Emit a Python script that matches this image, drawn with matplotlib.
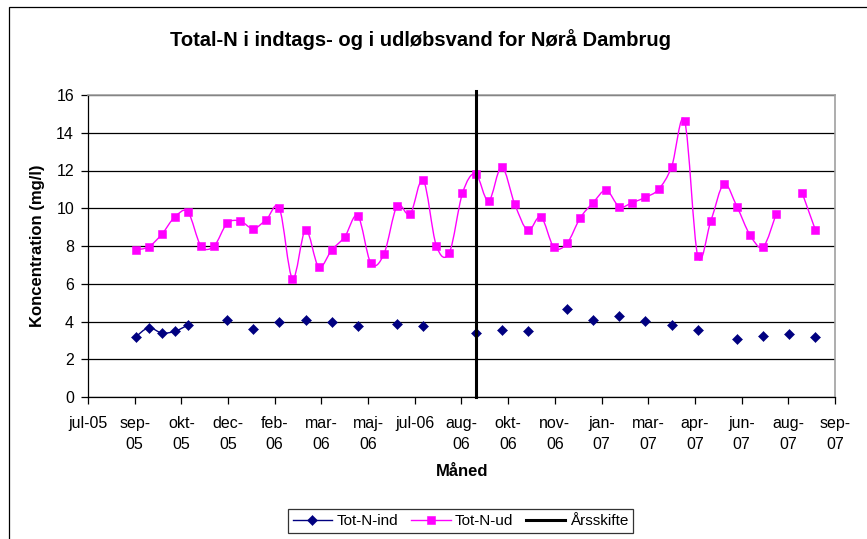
import numpy as np
import matplotlib
matplotlib.use('Agg')
import matplotlib.pyplot as plt
import matplotlib.dates as mdates
from matplotlib.path import Path
from matplotlib.patches import PathPatch, Rectangle
from matplotlib.lines import Line2D
from datetime import datetime, timedelta

# sample dates (roughly every second week)
dates = ['2005-09-06', '2005-09-20', '2005-10-04', '2005-10-18', '2005-11-01',
         '2005-11-15', '2005-11-29', '2005-12-13', '2005-12-27', '2006-01-10',
         '2006-01-24', '2006-02-07', '2006-02-21', '2006-03-07', '2006-03-21',
         '2006-04-04', '2006-04-18', '2006-05-02', '2006-05-16', '2006-05-30',
         '2006-06-13', '2006-06-27', '2006-07-11', '2006-07-25', '2006-08-08',
         '2006-08-22', '2006-09-05', '2006-09-19', '2006-10-03', '2006-10-17',
         '2006-10-31', '2006-11-14', '2006-11-28', '2006-12-12', '2006-12-26',
         '2007-01-09', '2007-01-23', '2007-02-06', '2007-02-20', '2007-03-06',
         '2007-03-20', '2007-04-03', '2007-04-17', '2007-05-01', '2007-05-15',
         '2007-05-29', '2007-06-12', '2007-06-26', '2007-07-10', '2007-07-24',
         '2007-08-07', '2007-08-21', '2007-09-04']

tot_n_ind = [3.18, 3.67, 3.39, 3.48, 3.81, None, None, 4.10, None, 3.62,
             None, 3.96, None, 4.10, None, 3.96, None, 3.74, None, None,
             3.88, None, 3.74, None, None, None, 3.41, None, 3.53, None,
             3.48, None, None, 4.65, None, 4.10, None, 4.31, None, 4.03,
             None, 3.81, None, 3.53, None, None, 3.06, None, 3.25, None,
             3.32, None, 3.18]

tot_n_ud = [7.79, 7.96, 8.62, 9.54, 9.80, 8.00, 8.00, 9.20, 9.32, 8.92,
            9.40, 10.00, 6.27, 8.85, 6.90, 7.79, 8.49, 9.60, 7.08, 7.58,
            10.12, 9.68, 11.50, 8.02, 7.65, 10.79, 11.83, 10.38, 12.19, 10.22,
            8.83, 9.55, 7.93, 8.14, 9.48, 10.30, 10.95, 10.08, 10.30, 10.58,
            11.00, 12.19, 14.62, 7.47, 9.32, 11.28, 10.08, 8.58, 7.95, 9.70,
            None, 10.79, 8.85]

aarsskifte = '2006-09-05'

# Excel date axis: start date and 50 day major unit
x_start = '2005-07-17'
x_step = 50
tick_labels = ['jul-05', 'sep-\n05', 'okt-\n05', 'dec-\n05', 'feb-\n06', 'mar-\n06',
               'maj-\n06', 'jul-06', 'aug-\n06', 'okt-\n06', 'nov-\n06', 'jan-\n07',
               'mar-\n07', 'apr-\n07', 'jun-\n07', 'aug-\n07', 'sep-\n07']

plt.rcParams['font.family'] = ['Liberation Sans', 'DejaVu Sans']

x = mdates.date2num([datetime.strptime(d, '%Y-%m-%d') for d in dates])
t0 = datetime.strptime(x_start, '%Y-%m-%d')
ticks = mdates.date2num([t0 + timedelta(days=x_step * i) for i in range(len(tick_labels))])


def segments(xs, ys):
    seg = []
    for xi, yi in zip(xs, ys):
        if yi is None:
            if seg:
                yield seg
            seg = []
        else:
            seg.append((xi, yi))
    if seg:
        yield seg


def smooth_path(pts):
    # bezier through points like Excel's smoothed line
    p = np.array(pts, dtype=float)
    verts = [p[0]]
    codes = [Path.MOVETO]
    n = len(p)
    for i in range(n - 1):
        pm = p[i - 1] if i > 0 else p[i]
        p2 = p[i + 2] if i + 2 < n else p[i + 1]
        c1 = p[i] + (p[i + 1] - pm) / 6.0
        c2 = p[i + 1] - (p2 - p[i]) / 6.0
        verts += [c1, c2, p[i + 1]]
        codes += [Path.CURVE4] * 3
    return Path(verts, codes)


def draw_series(ax, xs, ys, color, marker, ms):
    for seg in segments(xs, ys):
        if len(seg) > 1:
            ax.add_patch(PathPatch(smooth_path(seg), facecolor='none',
                                   edgecolor=color, lw=1.0, zorder=3))
    xv = [a for a, b in zip(xs, ys) if b is not None]
    yv = [b for b in ys if b is not None]
    ax.plot(xv, yv, ls='none', marker=marker, ms=ms, mew=0.4, color=color, zorder=4)


fig = plt.figure(figsize=(8.67, 5.39), dpi=100)
fig.patches.append(Rectangle((9 / 867, -0.1), 1.2, 1 - 7.5 / 539 + 0.1,
                             transform=fig.transFigure, fill=False,
                             edgecolor='black', lw=0.9))

ax = fig.add_axes([88 / 867, 1 - 397 / 539, 747 / 867, 302 / 539])

draw_series(ax, x, tot_n_ud, '#FF00FF', 's', 6.2)
draw_series(ax, x, tot_n_ind, '#000080', 'D', 5.2)

xa = mdates.date2num(datetime.strptime(aarsskifte, '%Y-%m-%d'))
ax.axvline(xa, ymin=0, ymax=1.014, color='black', lw=2.2, clip_on=False, zorder=5)

ax.set_xlim(ticks[0], ticks[-1])
ax.set_ylim(0, 16)
ax.set_yticks(np.arange(0, 17, 2))
ax.set_xticks(ticks)
ax.set_xticklabels(tick_labels, linespacing=1.5)
ax.yaxis.grid(True, color='black', lw=0.9)
ax.set_axisbelow(True)
ax.tick_params(axis='both', labelsize=11.5, length=5, width=0.9, color='black', direction='out')
ax.tick_params(axis='x', pad=9)
ax.tick_params(axis='y', pad=5)
for s in ['left', 'bottom']:
    ax.spines[s].set_color('black')
    ax.spines[s].set_linewidth(0.9)
for s in ['top', 'right']:
    ax.spines[s].set_color('#A0A0A0')
    ax.spines[s].set_linewidth(1.2)

fig.text(421 / 867, 1 - 40 / 539, 'Total-N i indtags- og i udløbsvand for Nørå Dambrug',
         ha='center', va='center', fontsize=14.5, fontweight='bold')
fig.text(38 / 867, 1 - 246 / 539, 'Koncentration (mg/l)', rotation=90,
         ha='center', va='center', fontsize=12, fontweight='bold')
fig.text(462 / 867, 1 - 472 / 539, 'Måned', ha='center', va='center',
         fontsize=12, fontweight='bold')

handles = [Line2D([], [], color='#000080', marker='D', ms=5.2, mew=0.4, lw=1.0),
           Line2D([], [], color='#FF00FF', marker='s', ms=6.2, mew=0.4, lw=1.0),
           Line2D([], [], color='black', lw=2.2)]
leg = fig.legend(handles, ['Tot-N-ind', 'Tot-N-ud', 'Årsskifte'], ncol=3,
                 loc='center', bbox_to_anchor=(460.5 / 867, 1 - 521 / 539),
                 fontsize=11, frameon=True, fancybox=False, shadow=False,
                 handlelength=2.6, handletextpad=0.3, columnspacing=0.8,
                 borderpad=0.3, borderaxespad=0)
leg.get_frame().set_edgecolor('black')
leg.get_frame().set_linewidth(0.9)

fig.savefig('out.png', dpi=100, facecolor='white')
